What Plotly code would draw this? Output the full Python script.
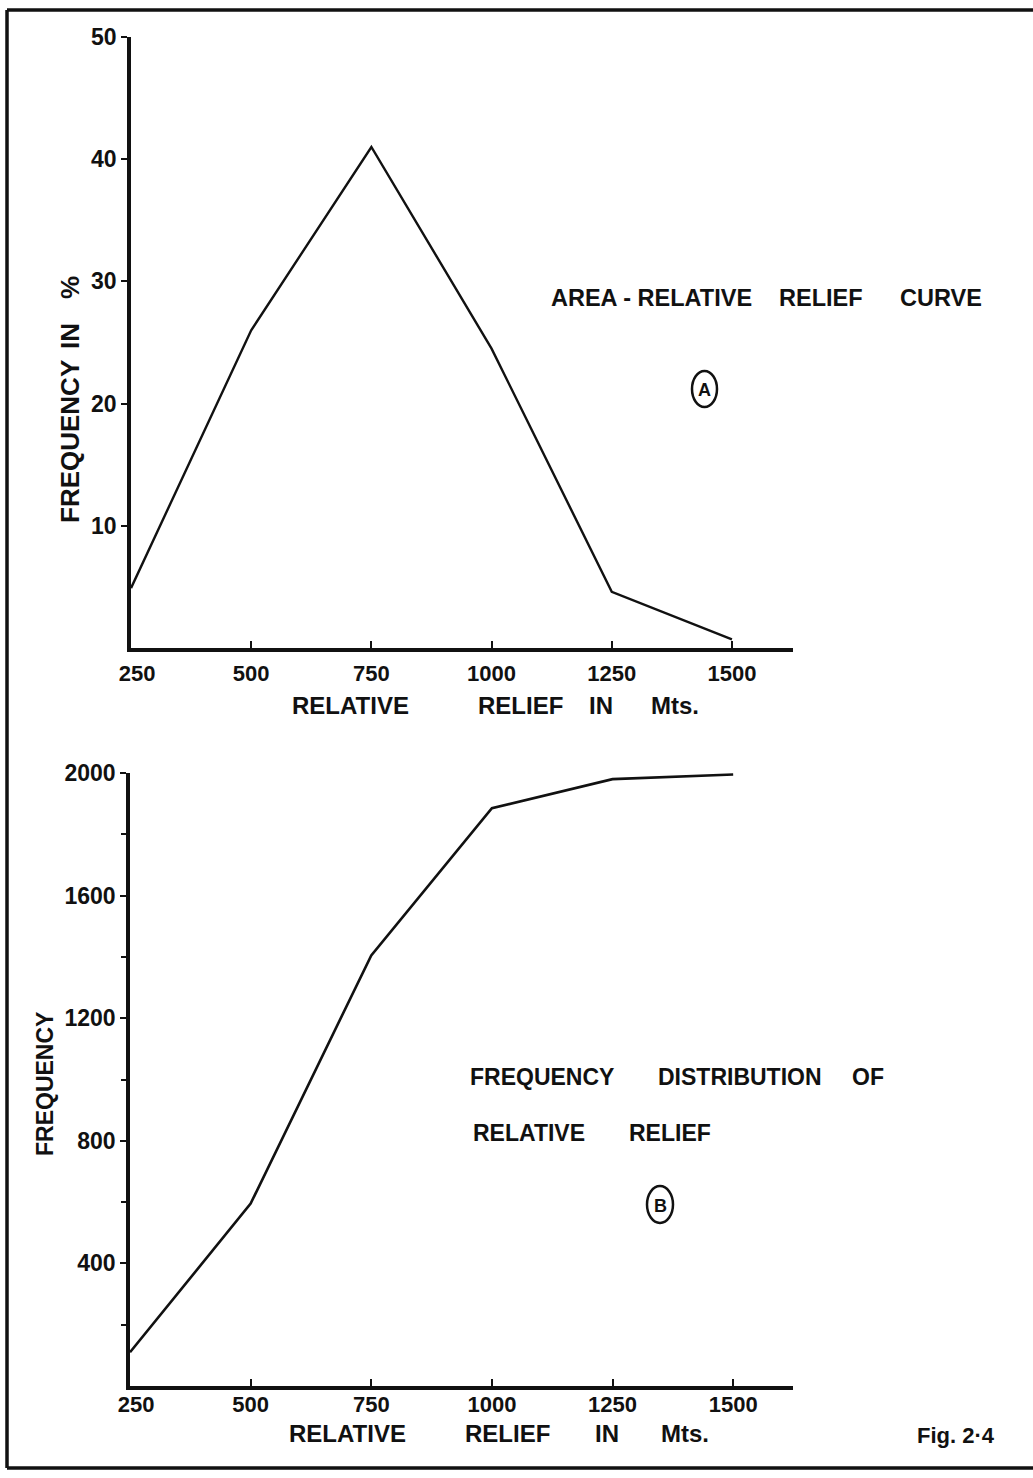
import plotly.graph_objects as go

W, H = 1033, 1478

# ---- data ----
relief_mts = [250, 500, 750, 1000, 1250, 1500]
area_freq_pct = [4.9, 26, 41, 24.5, 4.6, 0.7]
freq_count = [110, 595, 1405, 1885, 1980, 1995]

x_tick_vals = [250, 500, 750, 1000, 1250, 1500]
x_tick_text = ["\u00a0\u00a0250", "500", "750", "1000", "1250", "1500"]
ya_tick_vals = [10, 20, 30, 40, 50]
yb_tick_vals = [400, 800, 1200, 1600, 2000]

FONT = "Liberation Sans"
BLACK = "#111111"


def px(x):
    return x / W


def py(y):
    return 1 - y / H


fig = go.Figure()
fig.add_trace(go.Scatter(x=relief_mts, y=area_freq_pct, mode="lines",
                         line=dict(color=BLACK, width=2.4),
                         xaxis="x", yaxis="y", showlegend=False))
fig.add_trace(go.Scatter(x=relief_mts, y=freq_count, mode="lines",
                         line=dict(color=BLACK, width=2.6),
                         xaxis="x2", yaxis="y2", showlegend=False))

xtickfont = dict(family=FONT, size=22, color=BLACK, weight="bold")
ytickfont = dict(family=FONT, size=23, color=BLACK, weight="bold")

common_x = dict(showline=True, linewidth=3.5, linecolor=BLACK, showgrid=False,
                zeroline=False, ticks="inside", ticklen=7, tickwidth=2,
                tickcolor=BLACK, tickvals=x_tick_vals, ticktext=x_tick_text,
                tickfont=xtickfont, automargin=False)
common_y = dict(showline=True, linewidth=3.5, linecolor=BLACK, showgrid=False,
                zeroline=False, ticks="outside", ticklen=6, tickwidth=2,
                tickcolor=BLACK, tickfont=ytickfont, automargin=False)

fig.update_layout(
    width=W, height=H,
    margin=dict(l=0, r=0, t=0, b=0),
    paper_bgcolor="white", plot_bgcolor="white",
    template="none",
    xaxis=dict(domain=[px(131), px(793)], range=[250, 1627], anchor="y",
               ticklabelstandoff=3, **common_x),
    yaxis=dict(domain=[py(648), py(37)], range=[0, 50], anchor="x",
               tickvals=ya_tick_vals, **common_y),
    xaxis2=dict(domain=[px(130), px(793)], range=[250, 1624], anchor="y2",
                ticklabelstandoff=-4, **common_x),
    yaxis2=dict(domain=[py(1386), py(773)], range=[0, 2000], anchor="x2",
                tickvals=yb_tick_vals,
                minor=dict(tickvals=[200, 600, 1000, 1400, 1800], ticks="outside",
                           ticklen=5, tickwidth=2, tickcolor=BLACK),
                **common_y),
)

ann = []


def text(x, y, s, size=23, angle=0):
    ann.append(dict(x=px(x), y=py(y), xref="paper", yref="paper", text=s,
                    showarrow=False, textangle=angle,
                    font=dict(family=FONT, size=size, color=BLACK, weight="bold"),
                    xanchor="center", yanchor="middle"))


# axis titles, top chart
text(350, 705, "RELATIVE", size=24)
text(520, 705, "RELIEF", size=24)
text(601, 705, "IN", size=24)
text(675, 705, "Mts.", size=24)
text(70, 442, "FREQUENCY", size=26, angle=-90)
text(70, 336, "IN", size=26, angle=-90)
text(70, 288, "%", size=26, angle=-90)

# axis titles, bottom chart
text(347, 1433, "RELATIVE", size=24)
text(507, 1433, "RELIEF", size=24)
text(607, 1433, "IN", size=24)
text(685, 1433, "Mts.", size=24)
text(45, 1084, "FREQUENCY", size=23, angle=-90)

# in-chart labels
text(651, 298, "AREA - RELATIVE", size=23.5)
text(821, 298, "RELIEF", size=23.5)
text(941, 298, "CURVE", size=23.5)
text(704, 390, "A", size=18)

text(542, 1077, "FREQUENCY", size=23)
text(740, 1077, "DISTRIBUTION", size=23)
text(868, 1077, "OF", size=23)
text(529, 1133, "RELATIVE", size=23)
text(670, 1133, "RELIEF", size=23)
text(660, 1206, "B", size=18)

text(956, 1435, "Fig. 2\u00b74", size=22)

fig.update_layout(annotations=ann)

frame = dict(color=BLACK, width=3.5)
shapes = [
    # frame: top, left, bottom (right edge runs off the page)
    dict(type="line", xref="paper", yref="paper", x0=px(7), x1=px(1033),
         y0=py(10), y1=py(10), line=frame),
    dict(type="line", xref="paper", yref="paper", x0=px(7), x1=px(7),
         y0=py(10), y1=py(1468), line=frame),
    dict(type="line", xref="paper", yref="paper", x0=px(7), x1=px(1033),
         y0=py(1468), y1=py(1468), line=frame),
    # circles around A and B
    dict(type="circle", xref="paper", yref="paper", x0=px(692), x1=px(717),
         y0=py(407), y1=py(371), line=dict(color=BLACK, width=2.5)),
    dict(type="circle", xref="paper", yref="paper", x0=px(647), x1=px(673),
         y0=py(1223), y1=py(1186), line=dict(color=BLACK, width=2.5)),
]
fig.update_layout(shapes=shapes)

fig.write_html("out.html")
